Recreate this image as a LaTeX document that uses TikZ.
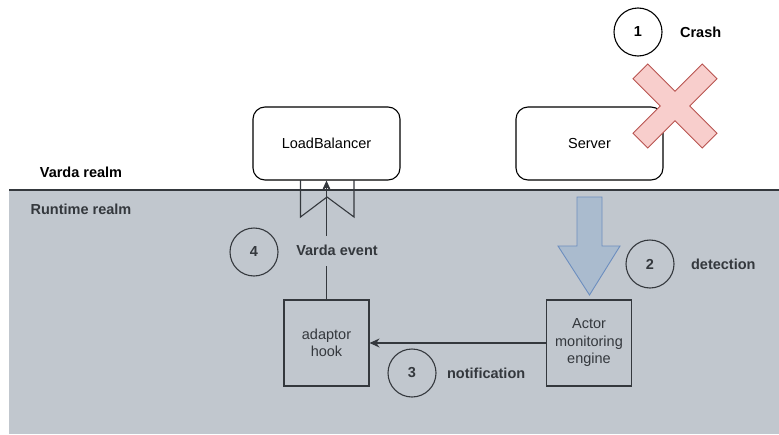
\documentclass[tikz,border=0pt]{standalone}
\usepackage{fontspec}
\setmainfont{Liberation Sans}
\usetikzlibrary{arrows.meta,positioning}
\definecolor{realmgray}{RGB}{193,199,206}
\definecolor{realmink}{RGB}{52,56,61}
\definecolor{crossfill}{RGB}{248,206,204}
\definecolor{crossline}{RGB}{184,84,80}
\definecolor{detectfill}{RGB}{170,187,206}
\definecolor{detectline}{RGB}{108,142,191}

\begin{document}
\begin{tikzpicture}[x=1pt,y=-1pt,line width=1.1pt,
  font=\fontsize{14.5}{17.5}\selectfont,
  service/.style={draw, fill=white, rounded corners=12pt, minimum width=147pt, minimum height=73pt},
  block/.style={draw=realmink, text=realmink, align=center, minimum width=85pt, minimum height=86pt, inner sep=2pt},
  stepmark/.style={circle, draw, minimum size=48pt, inner sep=0pt, font=\fontsize{14.5}{17.5}\selectfont\bfseries},
  caption/.style={inner sep=0pt, font=\fontsize{14.5}{17.5}\selectfont\bfseries},
  flow/.style={draw=realmink, -{Stealth[length=10pt,width=9pt]}}]
\useasboundingbox (0,0) rectangle (779,434);

% realms
\fill[realmgray] (9,190) rectangle (779,434);
\draw[realmink, line width=1.4pt] (9,190) -- (779,190);
\node[caption] (varda) at (81,172) {Varda realm};
\node[caption, text=realmink] (runtime) at (81,209) {Runtime realm};

% Varda side
\node[service] (lb) at (326.5,143.5) {LoadBalancer};
\node[service] (server) at (589.5,143.5) {Server};
\draw[realmink] (300.5,180) -- (300.5,217) -- (327,197) -- (354,217) -- (354,180);

% crash
\begin{scope}[shift={(675,106)}, rotate=45]
  \filldraw[fill=crossfill, draw=crossline, line width=0.9pt]
    (-49,-10.5) -- (-10.5,-10.5) -- (-10.5,-49) -- (10.5,-49) -- (10.5,-10.5) -- (49,-10.5)
    -- (49,10.5) -- (10.5,10.5) -- (10.5,49) -- (-10.5,49) -- (-10.5,10.5) -- (-49,10.5) -- cycle;
\end{scope}
\node[stepmark] (s1) at (638,32) {1};
\node[caption, right=17pt of s1] (crash) {Crash};

% runtime side
\node[block] (hook) at (326.5,343) {adaptor\\hook};
\node[block] (engine) at (589,343) {Actor\\monitoring\\engine};

\filldraw[fill=detectfill, draw=detectline, line width=0.9pt]
  (577,197) -- (602,197) -- (602,246) -- (620,246) -- (589.5,295) -- (558,246) -- (577,246) -- cycle;
\node[stepmark, draw=realmink, text=realmink] (s2) at (650,264) {2};
\node[caption, text=realmink, right=16pt of s2] (detect) {detection};

\draw[flow] (engine) -- (hook);
\node[stepmark, draw=realmink, text=realmink] (s3) at (412,373) {3};
\node[caption, text=realmink, right=10pt of s3] (notify) {notification};

\draw[flow] (hook) -- (lb)
  node[pos=0.41, xshift=10.5pt, caption, text=realmink, fill=realmgray, minimum height=30pt] (event) {Varda event};
\node[stepmark, draw=realmink, text=realmink] (s4) at (254,252) {4};
\end{tikzpicture}
\end{document}
